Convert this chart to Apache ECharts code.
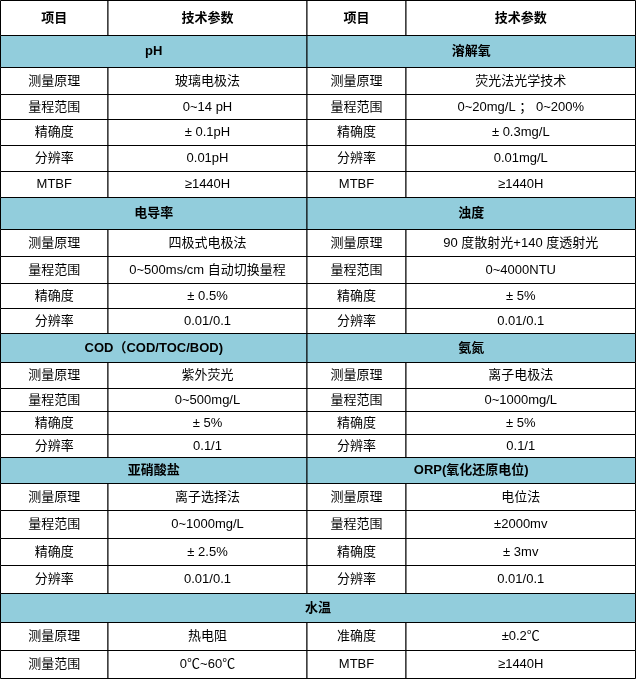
<!DOCTYPE html>
<html><head><meta charset="utf-8">
<script src="https://cdn.jsdelivr.net/npm/echarts@6/dist/echarts.min.js"></script>
<style>html,body{margin:0;padding:0;background:#fff}#main{width:636px;height:679px}</style>
</head><body><div id="main"></div>
<script>
// 表头
const headers = ['项目', '技术参数', '项目', '技术参数'];
// 分组：左标题，右标题，行 [左项, 左值, 右项, 右值]
const sections = [
  { left: 'pH', right: '溶解氧', rows: [
    ['测量原理', '玻璃电极法', '测量原理', '荧光法光学技术'],
    ['量程范围', '0~14 pH', '量程范围', '0~20mg/L ； 0~200%'],
    ['精确度', '± 0.1pH', '精确度', '± 0.3mg/L'],
    ['分辨率', '0.01pH', '分辨率', '0.01mg/L'],
    ['MTBF', '≥1440H', 'MTBF', '≥1440H']]},
  { left: '电导率', right: '浊度', rows: [
    ['测量原理', '四极式电极法', '测量原理', '90 度散射光+140 度透射光'],
    ['量程范围', '0~500ms/cm 自动切换量程', '量程范围', '0~4000NTU'],
    ['精确度', '± 0.5%', '精确度', '± 5%'],
    ['分辨率', '0.01/0.1', '分辨率', '0.01/0.1']]},
  { left: 'COD（COD/TOC/BOD)', right: '氨氮', rows: [
    ['测量原理', '紫外荧光', '测量原理', '离子电极法'],
    ['量程范围', '0~500mg/L', '量程范围', '0~1000mg/L'],
    ['精确度', '± 5%', '精确度', '± 5%'],
    ['分辨率', '0.1/1', '分辨率', '0.1/1']]},
  { left: '亚硝酸盐', right: 'ORP(氧化还原电位)', rows: [
    ['测量原理', '离子选择法', '测量原理', '电位法'],
    ['量程范围', '0~1000mg/L', '量程范围', '±2000mv'],
    ['精确度', '± 2.5%', '精确度', '± 3mv'],
    ['分辨率', '0.01/0.1', '分辨率', '0.01/0.1']]},
  { full: '水温', rows: [
    ['测量原理', '热电阻', '准确度', '±0.2℃'],
    ['测量范围', '0℃~60℃', 'MTBF', '≥1440H']]}
];
// 行边界 (像素)
const rowEdges = [0, 35, 67, 94, 119, 145, 171, 197, 229, 256, 283, 308, 333, 362, 388, 411, 434, 457, 483, 510, 538, 565, 593, 622, 650, 678];
const colEdges = [0.5, 108, 307, 406, 635.5];

const els = [];
const font = '13px "Liberation Sans", Arial, "Noto Sans CJK SC", sans-serif';
const bold = 'bold 13px "Liberation Sans", Arial, "Noto Sans CJK SC", sans-serif';
function cell(x0, x1, y0, y1, txt, opt) {
  opt = opt || {};
  els.push({ type: 'rect', shape: { x: x0, y: y0, width: x1 - x0, height: y1 - y0 },
    style: { fill: opt.fill || '#fff', stroke: '#000', lineWidth: 1 } });
  els.push({ type: 'text', x: opt.alignLeft ? x0 + 4 : (x0 + x1) / 2, y: (y0 + y1) / 2,
    style: { text: txt, font: opt.bold ? bold : font, fill: '#000',
      align: opt.alignLeft ? 'left' : 'center', verticalAlign: 'middle' } });
}
let r = 0;
function rowY(i) { return [rowEdges[i] + 0.5, rowEdges[i + 1] + 0.5]; }
let [a, b] = rowY(r++);
headers.forEach((h, i) => cell(colEdges[i], colEdges[i + 1], a, b, h, { bold: true }));
const teal = '#92cddc';
sections.forEach(s => {
  [a, b] = rowY(r++);
  if (s.full) {
    cell(colEdges[0], colEdges[4], a, b, s.full, { bold: true, fill: teal });
  } else {
    cell(colEdges[0], colEdges[2], a, b, s.left, { bold: true, fill: teal });
    cell(colEdges[2], colEdges[4], a, b, s.right, { bold: true, fill: teal });
  }
  s.rows.forEach(row => {
    [a, b] = rowY(r++);
    row.forEach((t, i) => cell(colEdges[i], colEdges[i + 1], a, b, t));
  });
});

const chart = echarts.init(document.getElementById('main'));
chart.setOption({ animation: false, graphic: { elements: els } });
</script>
</body></html>
